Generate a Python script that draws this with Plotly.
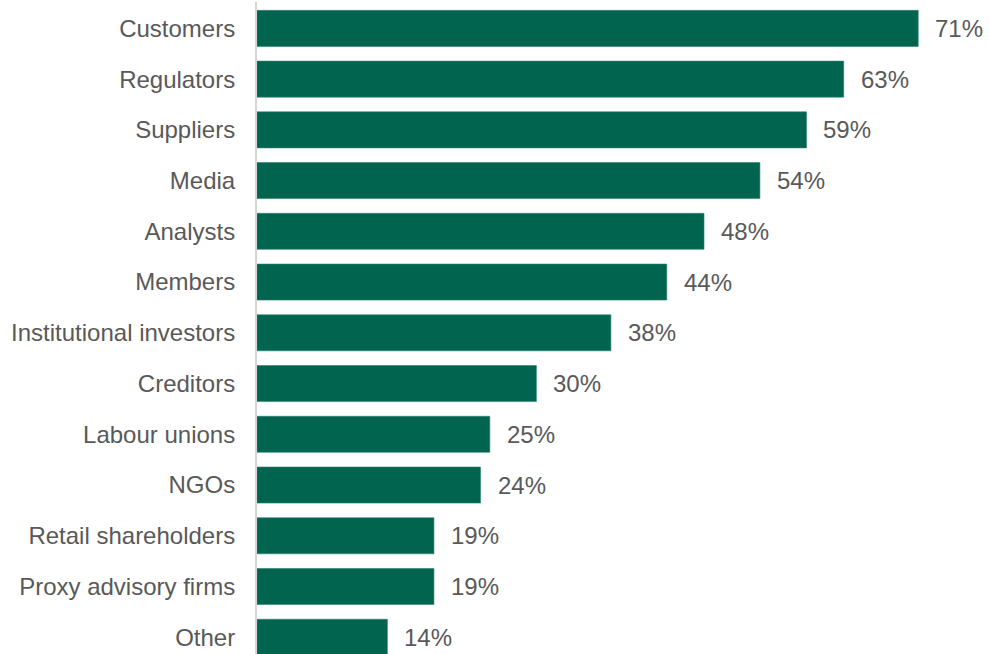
import plotly.graph_objects as go

# Stakeholder groups and share of respondents (%)
categories = [
    "Customers", "Regulators", "Suppliers", "Media", "Analysts", "Members",
    "Institutional investors", "Creditors", "Labour unions", "NGOs",
    "Retail shareholders", "Proxy advisory firms", "Other",
]
values = [71, 63, 59, 54, 48, 44, 38, 30, 25, 24, 19, 19, 14]

bar_color = "#00644F"
text_color = "#595959"
font_family = "Liberation Sans, Arial, sans-serif"

fig = go.Figure(
    go.Bar(
        x=values,
        y=categories,
        orientation="h",
        marker=dict(color=bar_color, line=dict(color="#2E8270", width=0.6)),
        hoverinfo="skip",
    )
)

# Percentage labels to the right of each bar
for cat, val in zip(categories, values):
    fig.add_annotation(
        x=val, y=cat, text=f"{val}%", showarrow=False,
        xanchor="left", yanchor="middle", xshift=15,
        font=dict(size=24, color=text_color, family=font_family),
    )

fig.update_layout(
    width=989,
    height=654,
    margin=dict(l=257, r=0, t=2, b=0),
    paper_bgcolor="white",
    plot_bgcolor="white",
    bargap=0.29,
    showlegend=False,
    font=dict(family=font_family, size=24, color=text_color),
)
fig.update_xaxes(
    range=[0, 78.6], visible=False, showgrid=False, zeroline=False,
)
fig.update_yaxes(
    type="category",
    categoryorder="array",
    categoryarray=categories,
    range=[12.33, -0.52],
    showline=True, linecolor="#D4D4D4", linewidth=2,
    showgrid=False, zeroline=False,
    ticks="", ticklabelstandoff=15,
    tickfont=dict(size=24, color=text_color, family=font_family),
)

fig.write_html("out.html")
